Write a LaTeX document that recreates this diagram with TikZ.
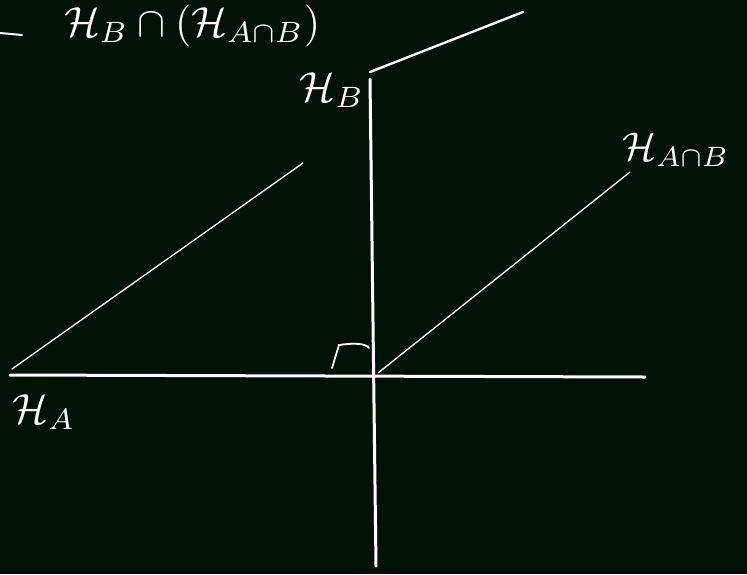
\documentclass[tikz,border=0pt]{standalone}
\usepackage{amsmath}
\usepackage{graphicx}
\definecolor{board}{RGB}{0,17,5}
\tikzset{
  thick line/.style={white, line width=3pt, line cap=round},
  mid line/.style={white, line width=2.4pt, line cap=round},
  thin line/.style={white, line width=1.3pt, line cap=round},
  lbl/.style={white, inner sep=0pt},
  toptext/.style={white, inner sep=0pt, anchor=base west}
}
\begin{document}
\begin{tikzpicture}[x=1pt, y=-1pt]
  \fill[board] (0,0) rectangle (747,574);
  \useasboundingbox (0,0) rectangle (747,574);
  % coordinates
  \coordinate (hL) at (10,375);
  \coordinate (hR) at (645,377);
  \coordinate (vT) at (370,79);
  \coordinate (vB) at (376,566);
  \coordinate (sA) at (370,72);
  \coordinate (sB) at (523,12);
  \coordinate (dL1) at (12,369);
  \coordinate (dL2) at (303,163);
  \coordinate (dR1) at (378,373);
  \coordinate (dR2) at (630,172);
  \coordinate (r1) at (332,368);
  \coordinate (r2) at (339,345);
  \coordinate (r3) at (369,348);
  % axes
  \draw[thick line] (hL) -- (hR);
  \draw[thick line] (vT) -- (vB);
  \draw[mid line] (sA) -- (sB);
  \draw[thin line] (dL1) -- (dL2);
  \draw[thin line] (dR1) -- (dR2);
  \draw[white, line width=1.8pt, line cap=round] (r1) -- (r2) .. controls (352,343) and (366,343) .. (r3);
  % labels
  \node[lbl] (HA) at (44,412) {\scalebox{4.2}{$\mathcal{H}_{A}$}};
  \node[lbl] (HB) at (332,90) {\scalebox{4.2}{$\mathcal{H}_{B}$}};
  \node[lbl] (HAB) at (676,150) {\scalebox{4.0}{$\mathcal{H}_{A\cap B}$}};
  % top formula
  \draw[white, line width=2pt, line cap=round] (0,33) -- (22,35);
  \node[toptext] (top) at (64,36) {\scalebox{4.2}{$\mathcal{H}_B \cap (\mathcal{H}_{A\cap B})$}};
\end{tikzpicture}
\end{document}
